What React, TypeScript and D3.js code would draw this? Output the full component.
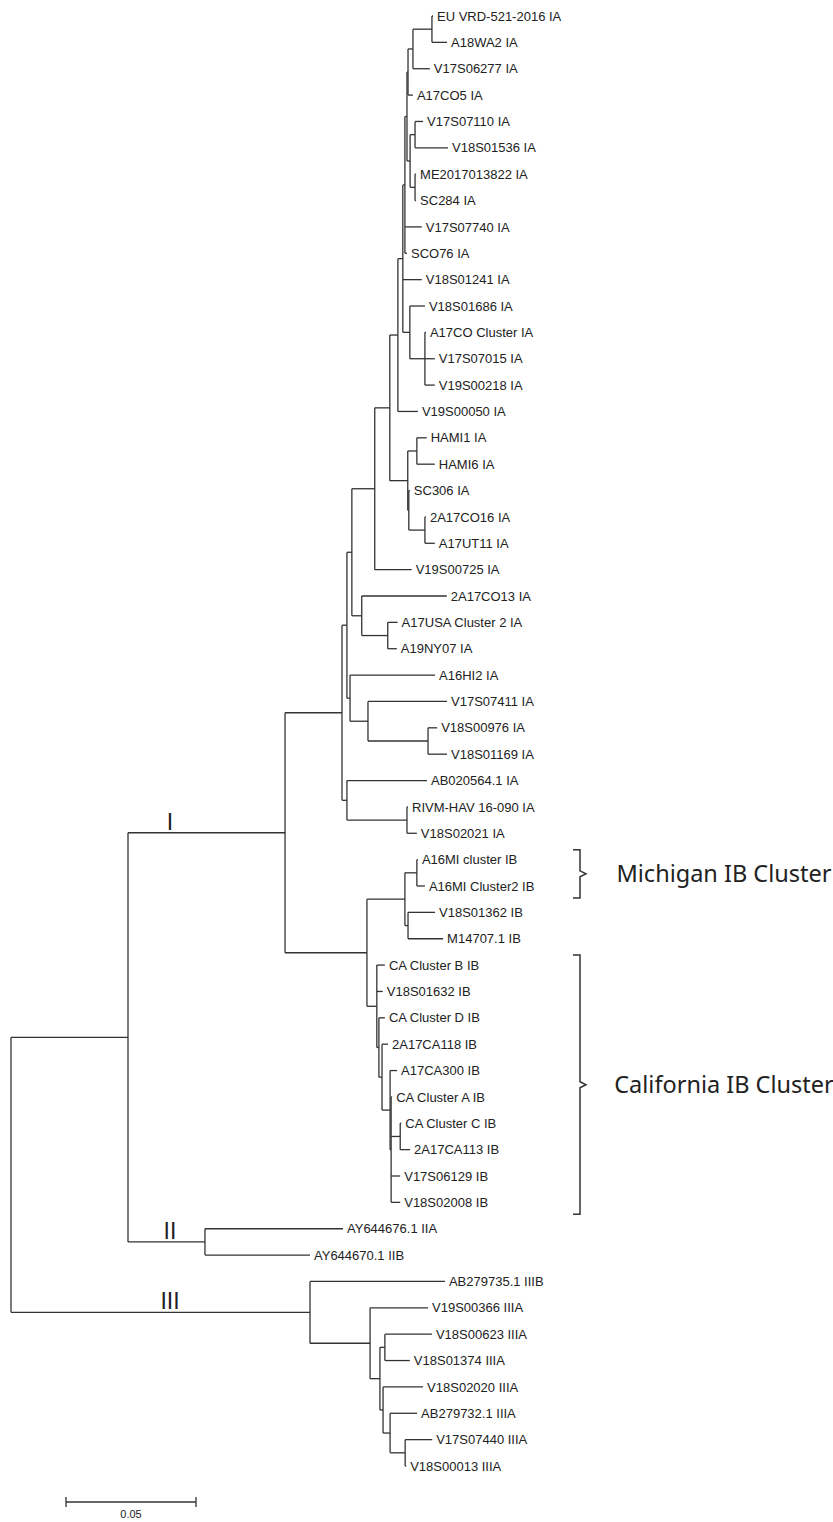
import React from "react";
import * as d3 from "d3";

// tree in parent / child form, branch lengths in substitutions per site
const nodeIds = [
  "root", "nI_II", "nI", "nIA", "nP", "nQ", "n375", "nA", "nB", "nD", "nU", "nW", "nG", "nE", "nEU",
  "EU VRD-521-2016 IA", "A18WA2 IA", "V17S06277 IA", "A17CO5 IA", "nF", "nF1", "V17S07110 IA", "V18S01536 IA",
  "nF2", "ME2017013822 IA", "SC284 IA", "V17S07740 IA", "SCO76 IA", "V18S01241 IA", "nC", "V18S01686 IA",
  "nA17CO", "A17CO Cluster IA", "V17S07015 IA", "V19S00218 IA", "V19S00050 IA", "nHAMIgrp", "nHAMI",
  "HAMI1 IA", "HAMI6 IA", "nS", "SC306 IA", "n2A17CO16", "2A17CO16 IA", "A17UT11 IA", "V19S00725 IA",
  "nCO13", "2A17CO13 IA", "nUSA", "A17USA Cluster 2 IA", "A19NY07 IA", "nHI2", "A16HI2 IA", "n07411",
  "V17S07411 IA", "n00976", "V18S00976 IA", "V18S01169 IA", "nIA3", "AB020564.1 IA", "nRIVM",
  "RIVM-HAV 16-090 IA", "V18S02021 IA", "nIB", "nMI", "nA16MI", "A16MI cluster IB", "A16MI Cluster2 IB",
  "nM147", "V18S01362 IB", "M14707.1 IB", "nCA0", "CA Cluster B IB", "V18S01632 IB", "nCA1",
  "CA Cluster D IB", "nCA2", "2A17CA118 IB", "nCA3", "A17CA300 IB", "nCA4", "CA Cluster A IB", "nCAC",
  "CA Cluster C IB", "2A17CA113 IB", "V17S06129 IB", "V18S02008 IB", "nII", "AY644676.1 IIA",
  "AY644670.1 IIB", "nIII", "AB279735.1 IIIB", "nIII2", "V19S00366 IIIA", "nIII3", "nIII4",
  "V18S00623 IIIA", "V18S01374 IIIA", "nIII5", "V18S02020 IIIA", "nIII6", "AB279732.1 IIIA", "nIII7",
  "V17S07440 IIIA", "V18S00013 IIIA",
];

const parentIds = [
  "", "root", "nI_II", "nI", "nIA", "nP", "nQ", "n375", "nA", "nB", "nD", "nU", "nW", "nG", "nE",
  "nEU", "nEU", "nE", "nG", "nW", "nF", "nF1", "nF1",
  "nF", "nF2", "nF2", "nU", "nU", "nD", "nD", "nC",
  "nC", "nA17CO", "nA17CO", "nA17CO", "nB", "nA", "nHAMIgrp",
  "nHAMI", "nHAMI", "nHAMIgrp", "nS", "nS", "n2A17CO16", "n2A17CO16", "n375",
  "nQ", "nCO13", "nCO13", "nUSA", "nUSA", "nP", "nHI2", "nHI2",
  "n07411", "n07411", "n00976", "n00976", "nIA", "nIA3", "nIA3",
  "nRIVM", "nRIVM", "nI", "nIB", "nMI", "nA16MI", "nA16MI",
  "nMI", "nM147", "nM147", "nIB", "nCA0", "nCA0", "nCA0",
  "nCA1", "nCA1", "nCA2", "nCA2", "nCA3", "nCA3", "nCA4", "nCA4",
  "nCAC", "nCAC", "nCA4", "nCA4", "nI_II", "nII",
  "nII", "root", "nIII", "nIII", "nIII2", "nIII2", "nIII3",
  "nIII4", "nIII4", "nIII3", "nIII5", "nIII5", "nIII6", "nIII6",
  "nIII7", "nIII7",
];

const branchLengths = [
  0, 0.045, 0.0604, 0.0219, 0.0019, 0.0019, 0.0088, 0.0058, 0.0031, 0.0019, 0.0008, 0.0008, 0.0004, 0.0019, 0.0073,
  0.0004, 0.0058, 0.0065, 0.0019, 0.0012, 0.0019, 0.0031, 0.0127,
  0.0019, 0.0004, 0.0004, 0.0065, 0.0008, 0.0073, 0.0027, 0.0058,
  0.0058, 0.0004, 0.0038, 0.0038, 0.0077, 0.0069, 0.0035,
  0.0038, 0.0069, 0.0004, 0.0004, 0.0062, 0.0004, 0.0038, 0.0142,
  0.0038, 0.0327, 0.01, 0.0038, 0.0035, 0.0012, 0.0327, 0.0069,
  0.0304, 0.0231, 0.0035, 0.0073, 0.0019, 0.0308, 0.0231,
  0.0004, 0.0038, 0.0315, 0.0146, 0.0046, 0.0004, 0.0031,
  0.0012, 0.0104, 0.0135, 0.0038, 0.0031, 0.0023, 0.0008,
  0.0023, 0.0012, 0.0023, 0.0031, 0.0027, 0.0004, 0.0004, 0.0035,
  0.0004, 0.0038, 0.0035, 0.0035, 0.0296, 0.0531,
  0.0404, 0.115, 0.0519, 0.0231, 0.0223, 0.0038, 0.0019,
  0.0181, 0.0096, 0.0012, 0.0154, 0.0027, 0.0104, 0.0058,
  0.0104, 0.0004,
];

const cladeNames = ["I", "II", "III"];
const cladeNodes = ["nI", "nII", "nIII"];

const groupNames = ["Michigan IB Cluster", "California IB Cluster"];
const groupFirst = ["A16MI cluster IB", "CA Cluster B IB"];
const groupLast = ["A16MI Cluster2 IB", "V18S02008 IB"];

const scaleBarValue = 0.05;

const W = 833;
const H = 1522;
const STROKE = "#333";

export default function App() {
  const rows = nodeIds.map((id, i) => ({ id, parent: parentIds[i], len: branchLengths[i] }));
  const root: any = d3
    .stratify<any>()
    .id((d) => d.id)
    .parentId((d) => d.parent)(rows);

  root.eachBefore((n: any) => {
    n.dist = n.parent ? n.parent.dist + n.data.len : 0;
  });

  const leaves = root.leaves();
  const x = d3.scaleLinear().domain([0, scaleBarValue]).range([11, 141]);
  const y = d3.scaleLinear().domain([0, leaves.length - 1]).range([16, 1466]);

  leaves.forEach((l: any, i: number) => (l.yPos = y(i)));
  root.eachAfter((n: any) => {
    if (n.children) n.yPos = (n.children[0].yPos + n.children[n.children.length - 1].yPos) / 2;
  });

  const nodes = root.descendants();
  const byId = new Map(nodes.map((n: any) => [n.id, n]));

  const horiz = nodes
    .filter((n: any) => n.parent)
    .map((n: any) => `M${x(n.parent.dist)},${n.yPos}H${x(n.dist)}`);
  const vert = nodes
    .filter((n: any) => n.children)
    .map(
      (n: any) =>
        `M${x(n.dist)},${n.children[0].yPos}V${n.children[n.children.length - 1].yPos}`
    );

  const barX0 = 66;
  const barLen = x(scaleBarValue) - x(0);
  const barY = 1502;

  return (
    <div style={{ position: "absolute", left: 0, top: 0 }}>
      <svg width={W} height={H} style={{ display: "block", background: "#fff" }}>
        <g fill="none" stroke={STROKE} strokeWidth={1.3}>
          {vert.map((d: string, i: number) => (
            <path key={"v" + i} d={d} />
          ))}
          {horiz.map((d: string, i: number) => (
            <path key={"h" + i} d={d} />
          ))}
        </g>
        <g fontFamily="'Liberation Sans', Arial, sans-serif" fontSize={13} fill="#222">
          {leaves.map((l: any) => (
            <text key={l.id} x={x(l.dist) + 4} y={l.yPos} dy="0.36em">
              {l.id}
            </text>
          ))}
        </g>
        <g fontFamily="'Liberation Sans', Arial, sans-serif" fontSize={23} fill="#222">
          {cladeNames.map((name, i) => {
            const n: any = byId.get(cladeNodes[i]);
            return (
              <text key={name} x={170} y={n.yPos - 3} textAnchor="middle">
                {name}
              </text>
            );
          })}
        </g>
        {groupNames.map((name, i) => {
          const a: any = byId.get(groupFirst[i]);
          const b: any = byId.get(groupLast[i]);
          const y0 = a.yPos - 10;
          const y1 = b.yPos + 12;
          const ym = (y0 + y1) / 2;
          const bx = 580;
          return (
            <g key={name}>
              <path
                d={`M${bx - 7},${y0}H${bx}V${ym - 3}L${bx + 6},${ym}L${bx},${ym + 3}V${y1}H${bx - 7}`}
                fill="none"
                stroke={STROKE}
                strokeWidth={1.5}
              />
              <text
                x={724}
                y={ym}
                dy="0.35em"
                textAnchor="middle"
                fontFamily="'Noto Sans', 'Open Sans', sans-serif"
                fontSize={23.5}
                fill="#222"
              >
                {name}
              </text>
            </g>
          );
        })}
        <g stroke={STROKE} strokeWidth={1.3}>
          <line x1={barX0} x2={barX0 + barLen} y1={barY} y2={barY} />
          <line x1={barX0} x2={barX0} y1={barY - 5} y2={barY + 5} />
          <line x1={barX0 + barLen} x2={barX0 + barLen} y1={barY - 5} y2={barY + 5} />
        </g>
        <text
          x={barX0 + barLen / 2}
          y={barY + 16}
          textAnchor="middle"
          fontFamily="'Liberation Sans', Arial, sans-serif"
          fontSize={11}
          fill="#222"
        >
          {scaleBarValue}
        </text>
      </svg>
    </div>
  );
}
